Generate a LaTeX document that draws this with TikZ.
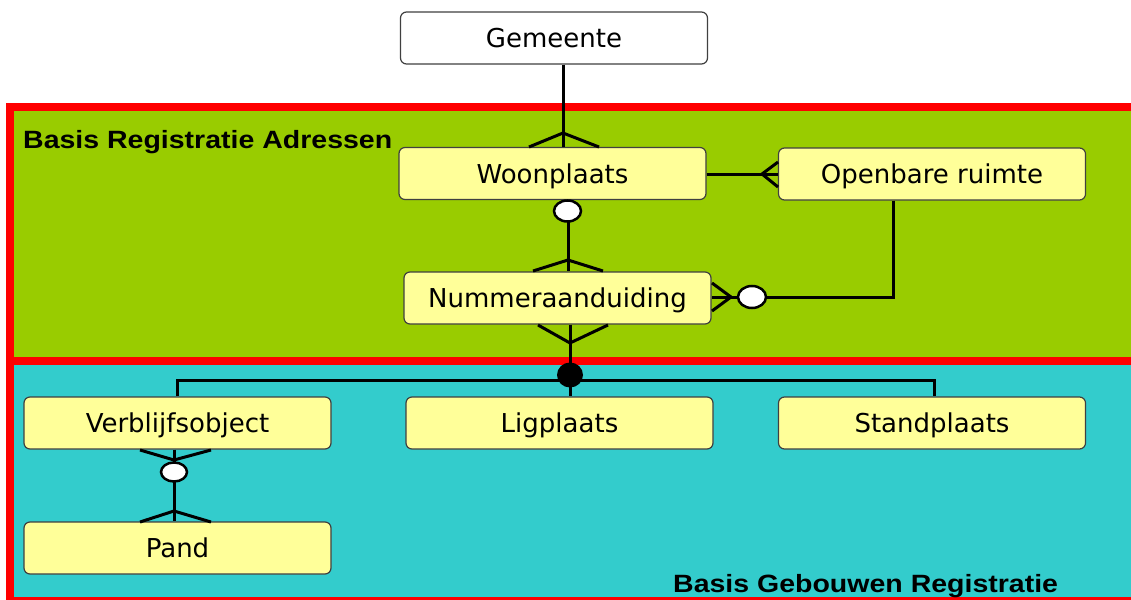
\documentclass[tikz,border=0pt]{standalone}
\usepackage{fontspec}
\setmainfont{DejaVu Sans}
\newfontfamily\labelfont{Liberation Sans}
\usetikzlibrary{shapes.geometric}
\definecolor{bragreen}{HTML}{99CC00}
\definecolor{bgrcyan}{HTML}{33CCCC}
\definecolor{boxyellow}{HTML}{FFFF99}
\definecolor{boxborder}{HTML}{404040}
\begin{document}
\begin{tikzpicture}[x=1pt,y=-1pt,
  entity/.style={draw=boxborder, line width=1.2pt, fill=boxyellow, rounded corners=6pt,
    minimum width=307pt, minimum height=52pt, inner sep=0pt, text height=19pt, text depth=0pt,
    font=\fontsize{26}{30}\selectfont},
  conn/.style={line width=3pt, black},
  opt/.style={ellipse, draw=black, line width=2.5pt, fill=white, minimum width=27pt,
    minimum height=21pt, inner sep=0pt},
  must/.style={ellipse, fill=black, minimum width=26pt, minimum height=25pt, inner sep=0pt},
  region/.style={font=\labelfont\bfseries\fontsize{25}{29}\selectfont, inner sep=0pt, anchor=base west}]

\useasboundingbox (0,0) rectangle (1131,599);
\fill[white] (0,0) rectangle (1131,599);
\fill[bragreen] (10,107) rectangle (1145,361);
\fill[bgrcyan] (10,361) rectangle (1145,601);
\draw[red, line width=8pt] (10,107) rectangle (1145,601);
\draw[red, line width=8pt] (10,361) -- (1145,361);

\node[region] (lblbra) at (23,148) {\scalebox{1.14}[1]{Basis Registratie Adressen}};
\node[region] (lblbgr) at (673,592) {\scalebox{1.14}[1]{Basis Gebouwen Registratie}};

\node[entity, fill=white] (gem) at (554,38) {Gemeente};
\node[entity] (woon) at (552.5,173.5) {Woonplaats};
\node[entity] (open) at (932,174) {Openbare ruimte};
\node[entity] (num) at (557.5,298) {Nummeraanduiding};
\node[entity] (verb) at (177.5,423) {Verblijfsobject};
\node[entity] (lig) at (559.5,423) {Ligplaats};
\node[entity] (stand) at (932,423) {Standplaats};
\node[entity] (pand) at (177.5,548) {Pand};

% Gemeente - Woonplaats
\coordinate (fw) at (563,133);
\coordinate (fwl) at (529,147);
\coordinate (fwr) at (599,147);
\draw[conn] (gem.south -| fw) -- (woon.north -| fw);
\draw[conn] (fwl) -- (fw) -- (fwr);

% Woonplaats - Nummeraanduiding
\coordinate (fn) at (568,260);
\coordinate (fnl) at (533,271);
\coordinate (fnr) at (603,271);
\draw[conn] (woon.south -| fn) -- (num.north -| fn);
\draw[conn] (fnl) -- (fn) -- (fnr);
\node[opt] (c1) at (567.5,211) {};

% Openbare ruimte - Woonplaats
\coordinate (fo) at (762,174);
\coordinate (fol) at (778,162);
\coordinate (for) at (778,187);
\draw[conn] (woon.east |- fo) -- (open.west |- fo);
\draw[conn] (fol) -- (fo) -- (for);

% Openbare ruimte - Nummeraanduiding
\coordinate (k) at (893,297);
\coordinate (fa) at (731,297);
\coordinate (fal) at (712,283);
\coordinate (far) at (712,311);
\draw[conn] (open.south -| k) -- (k) -- (num.east |- k);
\draw[conn] (fal) -- (fa) -- (far);
\node[opt, minimum width=28pt, minimum height=22pt] (c2) at (752,297) {};

% Nummeraanduiding - objects
\coordinate (fb) at (570,343);
\coordinate (fbl) at (538,325);
\coordinate (fbr) at (608,325);
\coordinate (bl) at (177,380);
\coordinate (br) at (934,380);
\draw[conn] (num.south -| fb) -- (lig.north -| fb);
\draw[conn] (fbl) -- (fb) -- (fbr);
\draw[conn] (verb.north -| bl) -- (bl) -- (br) -- (stand.north -| br);
\node[must] (dot) at (570,375) {};

% Verblijfsobject - Pand
\coordinate (fv) at (174,460);
\coordinate (fvl) at (140,450);
\coordinate (fvr) at (211,450);
\coordinate (fp) at (174,511);
\coordinate (fpl) at (140,522);
\coordinate (fpr) at (211,522);
\draw[conn] (verb.south -| fv) -- (pand.north -| fv);
\draw[conn] (fvl) -- (fv) -- (fvr);
\draw[conn] (fpl) -- (fp) -- (fpr);
\node[opt, minimum width=26pt, minimum height=19pt] (c3) at (174,472) {};
\end{tikzpicture}
\end{document}
